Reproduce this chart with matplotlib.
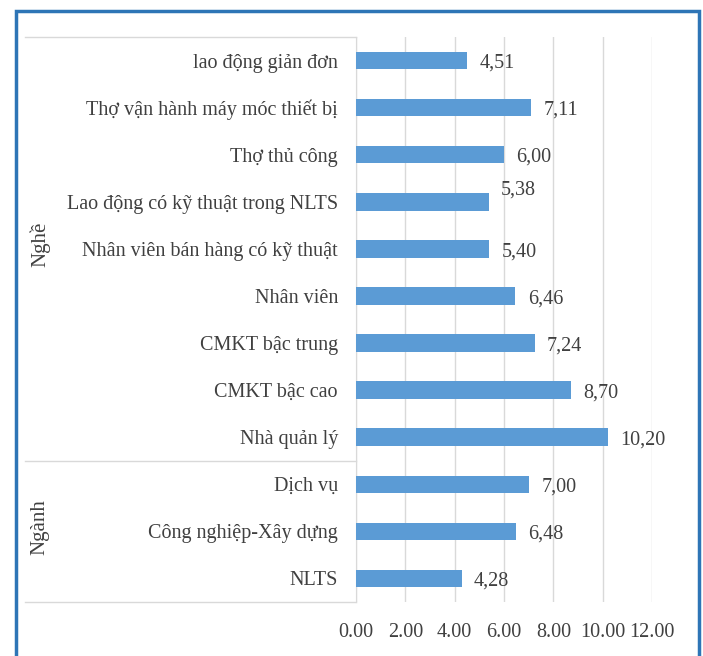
import matplotlib
matplotlib.use('Agg')
from matplotlib import pyplot as plt
from matplotlib.patches import Rectangle
from matplotlib.transforms import blended_transform_factory

# Tiền lương theo nghề và ngành
categories = ['lao động giản đơn', 'Thợ vận hành máy móc thiết bị', 'Thợ thủ công',
              'Lao động có kỹ thuật trong NLTS', 'Nhân viên bán hàng có kỹ thuật',
              'Nhân viên', 'CMKT bậc trung', 'CMKT bậc cao', 'Nhà quản lý',
              'Dịch vụ', 'Công nghiệp-Xây dựng', 'NLTS']
values = [4.51, 7.11, 6.00, 5.38, 5.40, 6.46, 7.24, 8.70, 10.20, 7.00, 6.48, 4.28]
groups = ['Nghề', 'Ngành']
group_sizes = [9, 3]
xticks = [0, 2, 4, 6, 8, 10, 12]

plt.rcParams['font.family'] = ['Liberation Serif', 'DejaVu Serif']
txt = '#404040'

W, H = 703, 656
fig = plt.figure(figsize=(W / 100, H / 100), dpi=100)

# khung viền xanh
fig.patches.append(Rectangle((16 / W, -0.05), 683 / W, 1 - 11 / H + 0.05,
                             transform=fig.transFigure, fill=False,
                             edgecolor='#2E75B6', linewidth=2.5))

ax = fig.add_axes([356 / W, (H - 602) / H, 296 / W, 565 / H])
y = list(range(len(categories)))
ax.barh(y, values, height=0.37, color='#5B9BD5', zorder=3)
ax.set_xlim(0, 12)
ax.set_ylim(len(categories) - 0.5, -0.5)
ax.set_xticks(xticks)
ax.set_xticklabels(['%.2f' % v for v in xticks])
ax.set_yticks(y)
ax.set_yticklabels(categories)
ax.tick_params(axis='both', length=0, labelsize=14.5, labelcolor=txt)
ax.tick_params(axis='y', pad=13)
ax.tick_params(axis='x', pad=15)
ax.grid(axis='x', color='#D9D9D9', linewidth=1, zorder=0)
for s in ['top', 'right', 'bottom']:
    ax.spines[s].set_visible(False)
ax.spines['left'].set_color('#D9D9D9')

# nhãn giá trị
for i, v in enumerate(values):
    dy = -0.3 if categories[i] == 'Lao động có kỹ thuật trong NLTS' else 0
    ax.annotate(('%.2f' % v).replace('.', ','), (v, i + dy), xytext=(9, -2),
                textcoords='offset points', va='center', ha='left',
                fontsize=14.5, color=txt)

# khung nhóm bên trái
tr = blended_transform_factory(fig.transFigure, ax.transData)
edges = [-0.5]
for n in group_sizes:
    edges.append(edges[-1] + n)
for e in edges:
    ax.plot([25 / W, 356 / W], [e, e], transform=tr, color='#D9D9D9',
            linewidth=1, clip_on=False)
for g, a, b in zip(groups, edges[:-1], edges[1:]):
    ax.text(40 / W, (a + b) / 2 - 0.1, g, transform=tr, rotation=90, ha='center',
            va='center', fontsize=15, color=txt)

fig.savefig('out.png', dpi=100)
